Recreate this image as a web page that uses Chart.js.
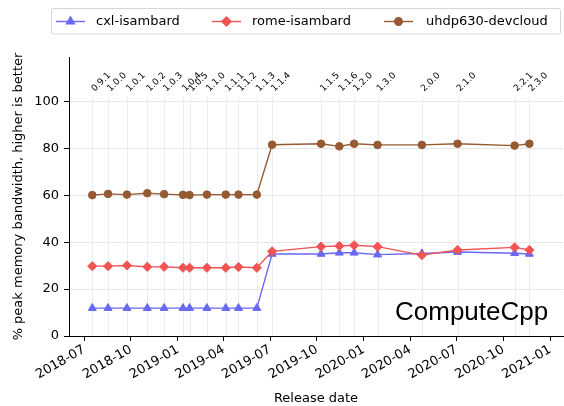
<!DOCTYPE html>
<html>
<head>
<meta charset="utf-8">
<script src="https://cdn.jsdelivr.net/npm/chart.js@4/dist/chart.umd.min.js"></script>
<style>
  html, body { margin: 0; padding: 0; background: #fff; }
  #wrap { width: 564px; height: 406px; }
</style>
</head>
<body>
<div id="wrap"><canvas id="c" width="564" height="406"></canvas></div>
<script>
// ComputeCpp releases and measured bandwidth (% of peak) per platform
const releaseDates = [
  '2018-07-17', '2018-08-17', '2018-09-23', '2018-11-02', '2018-12-05',
  '2019-01-11', '2019-01-24', '2019-02-27', '2019-04-05', '2019-04-30',
  '2019-06-05', '2019-07-05', '2019-10-09', '2019-11-14', '2019-12-13',
  '2020-01-28', '2020-04-24', '2020-07-03', '2020-10-23', '2020-11-21'
];
const versions = [
  '0.9.1', '1.0.0', '1.0.1', '1.0.2', '1.0.3',
  '1.0.4', '1.0.5', '1.1.0', '1.1.1', '1.1.2',
  '1.1.3', '1.1.4', '1.1.5', '1.1.6', '1.2.0',
  '1.3.0', '2.0.0', '2.1.0', '2.2.1', '2.3.0'
];
const cxlIsambard = [
  11.9, 11.9, 11.9, 11.9, 11.9, 11.9, 11.9, 11.9, 11.9, 11.9,
  11.9, 35.0, 35.0, 35.5, 35.5, 34.7, 35.2, 35.8, 35.3, 35.0
];
const romeIsambard = [
  29.8, 29.8, 30.1, 29.5, 29.5, 29.1, 29.1, 29.1, 29.1, 29.4,
  29.1, 36.1, 38.1, 38.4, 38.7, 38.1, 34.5, 36.7, 37.8, 36.7
];
const uhdp630Devcloud = [
  60.1, 60.6, 60.3, 60.9, 60.5, 60.2, 60.1, 60.3, 60.3, 60.3,
  60.3, 81.6, 82.0, 80.9, 82.0, 81.5, 81.5, 82.0, 81.2, 82.0
];
const xTickLabels = [
  '2018-07', '2018-10', '2019-01', '2019-04', '2019-07', '2019-10',
  '2020-01', '2020-04', '2020-07', '2020-10', '2021-01'
];
const yTicks = [0, 20, 40, 60, 80, 100];

// dates are plotted as days since 2018-07-01 on a linear axis
const EPOCH = Date.UTC(2018, 6, 1);
const dayOf = s => (Date.parse(s + 'T00:00:00Z') - EPOCH) / 864e5;
const xDays = releaseDates.map(dayOf);
const toPoints = vals => vals.map((v, i) => ({ x: xDays[i], y: v }));

const FONT = 'DejaVu Sans';
const BLUE = '#6868f2';
const RED = '#f25353';
const BROWN = '#965a32';

const seriesStyle = [
  { label: 'cxl-isambard', data: cxlIsambard, color: BLUE, style: 'triangle', r: 4.6, order: 3 },
  { label: 'rome-isambard', data: romeIsambard, color: RED, style: 'rectRot', r: 4.6, order: 2 },
  { label: 'uhdp630-devcloud', data: uhdp630Devcloud, color: BROWN, style: 'circle', r: 3.8, order: 1 }
];

// faint vertical line at every release, from 0 up to just above 100 %
const releaseLines = {
  id: 'releaseLines',
  beforeDatasetsDraw(chart) {
    const { ctx, scales: { x, y } } = chart;
    ctx.save();
    ctx.strokeStyle = '#ececec';
    ctx.lineWidth = 1;
    const yTop = Math.round(y.getPixelForValue(102));
    const yBot = y.getPixelForValue(0);
    xDays.forEach(d => {
      const px = Math.round(x.getPixelForValue(d)) + 0.5;
      ctx.beginPath();
      ctx.moveTo(px, yTop);
      ctx.lineTo(px, yBot);
      ctx.stroke();
    });
    ctx.restore();
  }
};

// version numbers, version tag and legend box
const annotations = {
  id: 'annotations',
  afterDraw(chart) {
    const { ctx, scales: { x, y } } = chart;
    ctx.save();
    ctx.fillStyle = '#000';
    ctx.font = '9px "' + FONT + '"';
    ctx.textAlign = 'left';
    ctx.textBaseline = 'bottom';
    const yLab = y.getPixelForValue(103.5);
    xDays.forEach((d, i) => {
      const px = x.getPixelForValue(d) + 4;
      ctx.save();
      ctx.translate(px, yLab);
      ctx.rotate(-Math.PI / 4);
      ctx.fillText(versions[i], 0, 0);
      ctx.restore();
    });

    ctx.font = '26px "Liberation Sans"';
    ctx.textBaseline = 'alphabetic';
    ctx.fillText('ComputeCpp', 395, 320);

    // legend
    const bx = 51.5, by = 8.5, bw = 509, bh = 25.5;
    ctx.beginPath();
    ctx.roundRect(bx, by, bw, bh, 2);
    ctx.fillStyle = 'rgba(255,255,255,0.9)';
    ctx.fill();
    ctx.strokeStyle = '#d6d6d6';
    ctx.lineWidth = 1;
    ctx.stroke();
    const ly = 21.5;
    const items = [
      { x0: 56, x1: 85, tx: 96 },
      { x0: 212, x1: 241, tx: 252 },
      { x0: 384, x1: 413, tx: 426 }
    ];
    items.forEach((it, i) => {
      const s = seriesStyle[i];
      ctx.strokeStyle = s.color;
      ctx.fillStyle = s.color;
      ctx.lineWidth = 1.4;
      ctx.beginPath();
      ctx.moveTo(it.x0, ly);
      ctx.lineTo(it.x1, ly);
      ctx.stroke();
      Chart.helpers.drawPoint(ctx, { pointStyle: s.style, radius: s.r, rotation: 0, borderWidth: 1 },
        (it.x0 + it.x1) / 2, ly);
      ctx.fillStyle = '#000';
      ctx.font = '13px "' + FONT + '"';
      ctx.textBaseline = 'middle';
      ctx.textAlign = 'left';
      ctx.fillText(s.label, it.tx, ly + 0.5);
    });
    ctx.restore();
  }
};

const ctx = document.getElementById('c').getContext('2d');
new Chart(ctx, {
  type: 'line',
  data: {
    datasets: seriesStyle.map(s => ({
      label: s.label,
      data: toPoints(s.data),
      borderColor: s.color,
      backgroundColor: s.color,
      pointBackgroundColor: s.color,
      pointBorderColor: s.color,
      pointStyle: s.style,
      pointRadius: s.r,
      pointBorderWidth: 1,
      borderWidth: 1.4,
      tension: 0,
      fill: false,
      order: s.order
    }))
  },
  options: {
    responsive: false,
    animation: false,
    devicePixelRatio: 1,
    layout: { autoPadding: false, padding: { left: 0, right: 1, top: 57, bottom: 0 } },
    plugins: { legend: { display: false }, tooltip: { enabled: false } },
    scales: {
      x: {
        type: 'linear',
        min: -29.7,
        max: 940,
        afterBuildTicks: s => { s.ticks = xTickLabels.map(l => ({ value: dayOf(l + '-01') })); },
        afterFit: s => { s.height = 70; s.paddingLeft = 0; s.paddingRight = 0; },
        ticks: {
          autoSkip: false,
          minRotation: 30,
          maxRotation: 30,
          padding: 1,
          color: '#000',
          font: { family: FONT, size: 13 },
          callback: (v, i) => xTickLabels[i]
        },
        grid: { drawOnChartArea: false, tickLength: 5, tickColor: '#000', tickWidth: 1 },
        border: { color: '#000', width: 1 },
        title: {
          display: true,
          text: 'Release date',
          color: '#000',
          font: { family: FONT, size: 13 },
          padding: { top: 0, bottom: 0 }
        }
      },
      y: {
        min: 0,
        max: 119,
        afterBuildTicks: s => { s.ticks = yTicks.map(v => ({ value: v })); },
        afterFit: s => { s.width = 69; },
        ticks: {
          padding: 5,
          color: '#000',
          font: { family: FONT, size: 13 }
        },
        grid: { color: '#e6e6e6', lineWidth: 1, tickLength: 5, tickColor: '#000' },
        border: { color: '#000', width: 1 },
        title: {
          display: true,
          text: '% peak memory bandwidth, higher is better',
          color: '#000',
          font: { family: FONT, size: 13 },
          padding: { top: 11, bottom: 0 }
        }
      }
    }
  },
  plugins: [releaseLines, annotations]
});
</script>
</body>
</html>
